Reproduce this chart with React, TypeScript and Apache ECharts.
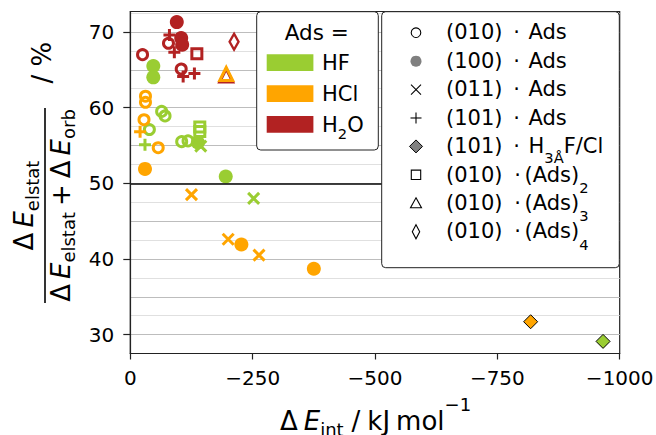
import React, { useEffect, useRef } from 'react';
import * as echarts from 'echarts';

const FONT = '"DejaVu Sans", sans-serif';

// ---- data: [ΔE_int (kJ/mol), percentage] ----
// HF
const hf010 = [[-64, 59.5], [-71, 58.9], [-39, 57.1], [-105, 55.5], [-118, 55.6]];
const hf100 = [[-47, 65.5], [-47, 64.0], [-138, 55.4], [-195, 50.9]];
const hf011 = [[-144, 54.9], [-252, 48.0]];
const hf101 = [[-30, 55.1]];
const hfH3 = [[-966, 29.1]];
const hfAds2 = [[-142, 57.45], [-142, 56.85]];
// HCl
const hcl010 = [[-31, 61.5], [-31, 60.7], [-28, 58.4], [-57, 54.7]];
const hcl100 = [[-30, 51.9], [-227, 41.9], [-375, 38.7]];
const hcl011 = [[-125, 48.5], [-200, 42.6], [-263, 40.5]];
const hcl101 = [[-20, 56.8]];
const hclH3 = [[-818, 31.7]];
const hclAds3 = [[-196, 64.45]];
// H2O
const h2o010 = [[-25, 67.0], [-78, 68.5], [-104, 65.1]];
const h2o100 = [[-95, 71.3], [-104, 69.2], [-106, 68.3]];
const h2o101 = [[-80, 69.6], [-90, 67.3], [-108, 64.1], [-131, 64.5]];
const h2oAds2 = [[-136, 67.1]];
const h2oAds3 = [[-196, 64.25]];
const h2oAds4 = [[-212, 68.7]];

const refLine = 50;
const xTicks = [0, -250, -500, -750, -1000];
const yTicks = [30, 40, 50, 60, 70];
const gridMajor = [30, 35, 40, 45, 55, 60, 65, 70];

const adsNames = ['HF', 'HCl', 'H2O'];
const adsColors = ['#9ACD32', '#FFA500', '#B22222'];
const facetNames = ['(010)', '(100)', '(011)', '(101)', '(101)', '(010)', '(010)', '(010)'];

const GREEN = adsColors[0];
const ORANGE = adsColors[1];
const RED = adsColors[2];

const PLUS = 'path://M0,5L10,5M5,0L5,10';
const CROSS = 'path://M0,0L10,10M10,0L0,10';

const Y_MIN = 27.5;
const Y_MAX = 72.7;

type Seg = { t: string; size: number; italic?: boolean; dy?: number; gap?: number };

let ctx: CanvasRenderingContext2D | null = null;
function measure(s: Seg) {
  if (!ctx) ctx = document.createElement('canvas').getContext('2d');
  ctx!.font = `${s.italic ? 'italic ' : ''}${s.size}px "DejaVu Sans"`;
  return ctx!.measureText(s.t).width;
}
function runW(segs: Seg[]) {
  return segs.reduce((a, s) => a + (s.gap || 0) + measure(s), 0);
}
function txt(t: string, x: number, y: number, size: number, italic: boolean, z: number, align = 'left') {
  return {
    type: 'text', x, y, z,
    style: {
      text: t, fontSize: size, fontFamily: FONT, fontStyle: italic ? 'italic' : 'normal',
      fill: '#000', align, verticalAlign: 'middle',
    },
  };
}
function run(segs: Seg[], x0: number, base: number, z: number) {
  const out: any[] = [];
  let x = x0;
  for (const s of segs) {
    x += s.gap || 0;
    out.push(txt(s.t, x, base + (s.dy || 0) - 0.346 * s.size, s.size, !!s.italic, z));
    x += measure(s);
  }
  return out;
}

function openS(data: number[][], symbol: string, size: any, color: string, bw = 3, z = 3) {
  return {
    type: 'scatter', data, symbol, symbolSize: size, z, yAxisIndex: 0,
    itemStyle: { color: 'rgba(0,0,0,0)', borderColor: color, borderWidth: bw, opacity: 1 },
  };
}
function fillS(data: number[][], symbol: string, size: number, color: string, z = 3) {
  return { type: 'scatter', data, symbol, symbolSize: size, z, yAxisIndex: 0, itemStyle: { color, opacity: 1 } };
}
function edgeS(data: number[][], symbol: string, size: number, color: string, z = 3) {
  return {
    type: 'scatter', data, symbol, symbolSize: size, z, yAxisIndex: 0,
    itemStyle: { color, borderColor: '#000', borderWidth: 1, opacity: 1 },
  };
}

function buildOption() {
  const series: any[] = [
    // HF
    fillS(hf100, 'circle', 14, GREEN),
    openS(hf010, 'circle', 10, GREEN),
    openS(hf011, CROSS, 11, GREEN),
    openS(hf101, PLUS, 12, GREEN),
    openS(hfAds2, 'rect', 10, GREEN),
    edgeS(hfH3, 'diamond', 14, GREEN),
    // HCl
    fillS(hcl100, 'circle', 14, ORANGE),
    openS(hcl010, 'circle', 10, ORANGE),
    openS(hcl011, CROSS, 11, ORANGE),
    openS(hcl101, PLUS, 12, ORANGE),
    edgeS(hclH3, 'diamond', 14, ORANGE),
    // H2O
    fillS(h2o100, 'circle', 14, RED),
    openS(h2o010, 'circle', 10, RED),
    openS(h2o101, PLUS, 12, RED),
    openS(h2oAds2, 'rect', 10, RED),
    openS(h2oAds3, 'triangle', 13, RED),
    openS(h2oAds4, 'diamond', [9, 16], RED, 2.5),
    openS(hclAds3, 'triangle', 13, ORANGE, 3, 4),
  ];
  series[0].markLine = {
    silent: true, symbol: 'none', animation: false,
    label: { show: false },
    lineStyle: { color: '#000', width: 1.5, type: 'solid' },
    data: [{ yAxis: refLine }],
  };

  const g: any[] = [];
  const ZB = 100, ZT = 101;

  // ---- y-axis title (rotated fraction) ----
  const num: Seg[] = [
    { t: 'Δ', size: 26 }, { t: 'E', size: 26, italic: true, gap: 5 }, { t: 'elstat', size: 18, dy: 5 },
  ];
  const den: Seg[] = [
    { t: 'Δ', size: 26 }, { t: 'E', size: 26, italic: true, gap: 5 }, { t: 'elstat', size: 18, dy: 5 },
    { t: '+', size: 26, gap: 6 }, { t: 'Δ', size: 26, gap: 6 }, { t: 'E', size: 26, italic: true, gap: 5 },
    { t: 'orb', size: 18, dy: 5 },
  ];
  const pct: Seg[] = [{ t: '/', size: 26 }, { t: '%', size: 26, gap: 8.3 }];
  const nw = runW(num), dw = runW(den);
  g.push({
    type: 'group', x: 45, y: 205.5, rotation: Math.PI / 2,
    children: [
      ...run(num, -nw / 2, -11.7, ZT),
      { type: 'line', z: ZT, shape: { x1: -97.5, y1: 0, x2: 97.5, y2: 0 }, style: { stroke: '#000', lineWidth: 1.6 } },
      ...run(den, -dw / 2, 25, ZT),
      ...run(pct, 122, 6, ZT),
    ],
  });

  // ---- x-axis title ----
  const xl: Seg[] = [
    { t: 'Δ', size: 26 }, { t: 'E', size: 26, italic: true, gap: 6 }, { t: 'int', size: 18, dy: 6 },
    { t: '/', size: 26, gap: 8 }, { t: 'kJ', size: 26, gap: 7 }, { t: 'mol', size: 26, gap: 6 },
    { t: '−1', size: 18, dy: -19 },
  ];
  g.push(...run(xl, 375.5 - runW(xl) / 2, 429.5, ZT));

  // ---- legend 1: colours ----
  g.push({
    type: 'rect', z: ZB, shape: { x: 256.7, y: 11.7, width: 121.6, height: 138.3, r: 4 },
    style: { fill: '#fff', stroke: '#222', lineWidth: 1 },
  });
  g.push(txt('Ads =', 316.7, 32.7, 21.5, false, ZT, 'center'));
  const patchY = [54.3, 85.3, 116];
  adsNames.forEach((name, i) => {
    g.push({
      type: 'rect', z: ZT, shape: { x: 266.7, y: patchY[i], width: 46.7, height: 16.7 },
      style: { fill: adsColors[i] },
    });
    const cy = patchY[i] + 8.35;
    const base = cy + 0.3645 * 21;
    const segs: Seg[] = name === 'H2O'
      ? [{ t: 'H', size: 21 }, { t: '2', size: 14.7, dy: 6.5 }, { t: 'O', size: 21 }]
      : [{ t: name, size: 21 }];
    g.push(...run(segs, 322, base, ZT));
  });

  // ---- legend 2: markers ----
  g.push({
    type: 'rect', z: ZB, shape: { x: 381.7, y: 11.7, width: 237.6, height: 256, r: 4 },
    style: { fill: '#fff', stroke: '#222', lineWidth: 1 },
  });
  const mx = 416;
  facetNames.forEach((facet, i) => {
    const y = 32.7 + i * 28.43;
    const base = y + 7;
    const st = { stroke: '#000', lineWidth: 1.1, fill: 'none' };
    if (i === 0) g.push({ type: 'circle', z: ZT, shape: { cx: mx, cy: y, r: 4.8 }, style: st });
    if (i === 1) g.push({ type: 'circle', z: ZT, shape: { cx: mx, cy: y, r: 5.5 }, style: { fill: '#808080' } });
    if (i === 2) {
      g.push({ type: 'line', z: ZT, shape: { x1: mx - 5, y1: y - 5, x2: mx + 5, y2: y + 5 }, style: st });
      g.push({ type: 'line', z: ZT, shape: { x1: mx + 5, y1: y - 5, x2: mx - 5, y2: y + 5 }, style: st });
    }
    if (i === 3) {
      g.push({ type: 'line', z: ZT, shape: { x1: mx - 5.5, y1: y, x2: mx + 5.5, y2: y }, style: st });
      g.push({ type: 'line', z: ZT, shape: { x1: mx, y1: y - 5.5, x2: mx, y2: y + 5.5 }, style: st });
    }
    if (i === 4) g.push({
      type: 'polygon', z: ZT, shape: { points: [[mx, y - 6.5], [mx + 6.5, y], [mx, y + 6.5], [mx - 6.5, y]] },
      style: { fill: '#808080', stroke: '#000', lineWidth: 1 },
    });
    if (i === 5) g.push({ type: 'rect', z: ZT, shape: { x: mx - 4.7, y: y - 4.7, width: 9.4, height: 9.4 }, style: st });
    if (i === 6) g.push({
      type: 'polygon', z: ZT, shape: { points: [[mx, y - 5.5], [mx + 5.5, y + 4.5], [mx - 5.5, y + 4.5]] }, style: st,
    });
    if (i === 7) g.push({
      type: 'polygon', z: ZT, shape: { points: [[mx, y - 7], [mx + 3.7, y], [mx, y + 7], [mx - 3.7, y]] }, style: st,
    });

    g.push(...run([{ t: facet, size: 21 }], 446, base, ZT));
    g.push(txt('·', i < 5 ? 516.7 : 517.7, base - 0.346 * 21, 21, false, ZT, 'center'));
    let segs: Seg[];
    if (i < 4) segs = [{ t: 'Ads', size: 21 }];
    else if (i === 4) segs = [{ t: 'H', size: 21 }, { t: '3Å', size: 14.7, dy: 9 }, { t: 'F/Cl', size: 21 }];
    else segs = [{ t: '(Ads)', size: 21 }, { t: String(i - 3), size: 14.7, dy: 10.5 }];
    g.push(...run(segs, i < 5 ? 528.5 : 524.5, base, ZT));
  });

  const hiddenAxis = {
    type: 'value', min: Y_MIN, max: Y_MAX, position: 'left',
    axisLine: { show: false }, axisLabel: { show: false },
  };

  return {
    animation: false,
    textStyle: { fontFamily: FONT },
    grid: {
      left: 130.3, right: 36.3, top: 11.5, bottom: 81.5,
      show: true, borderColor: '#222', borderWidth: 1.2, backgroundColor: 'transparent',
      outerBoundsMode: 'none',
    },
    xAxis: {
      type: 'value', min: -1000, max: 0, interval: 250, inverse: true, z: 5,
      axisLine: { show: true, onZero: false, lineStyle: { color: '#222', width: 1.2 } },
      axisTick: { show: true, length: 6, lineStyle: { color: '#222', width: 1.2 }, customValues: xTicks },
      axisLabel: {
        fontFamily: FONT, fontSize: 20, color: '#000', margin: 14, customValues: xTicks,
        showMinLabel: true, showMaxLabel: true,
        formatter: (v: number) => (v === 0 ? '0' : '−' + Math.abs(v)),
      },
      splitLine: { show: false },
    },
    yAxis: [
      {
        type: 'value', min: Y_MIN, max: Y_MAX, position: 'left', z: 5,
        axisLine: { show: true, onZero: false, lineStyle: { color: '#222', width: 1.2 } },
        axisTick: { show: true, length: 7, lineStyle: { color: '#222', width: 1.2 }, customValues: yTicks },
        axisLabel: {
          fontFamily: FONT, fontSize: 20, color: '#000', margin: 16, customValues: yTicks,
          formatter: (v: number) => String(v),
        },
        splitLine: { show: false },
      },
      {
        ...hiddenAxis, interval: 2.5, z: 0,
        axisTick: { show: false },
        splitLine: { show: true, showMinLine: false, showMaxLine: false, lineStyle: { color: '#e0e0e0', width: 1.2 } },
      },
      {
        ...hiddenAxis, z: 1,
        axisTick: { show: true, length: 0, customValues: gridMajor, lineStyle: { color: 'rgba(0,0,0,0)' } },
        splitLine: { show: true, lineStyle: { color: '#bdbdbd', width: 1.2 } },
      },
    ],
    series,
    graphic: { elements: g },
  };
}

export default function App() {
  const ref = useRef<HTMLDivElement>(null);
  useEffect(() => {
    const chart = echarts.init(ref.current!, null, { renderer: 'svg' });
    chart.setOption(buildOption() as any);
    return () => chart.dispose();
  }, []);
  return <div ref={ref} style={{ position: 'absolute', left: 0, top: 0, width: 656, height: 435 }} />;
}
